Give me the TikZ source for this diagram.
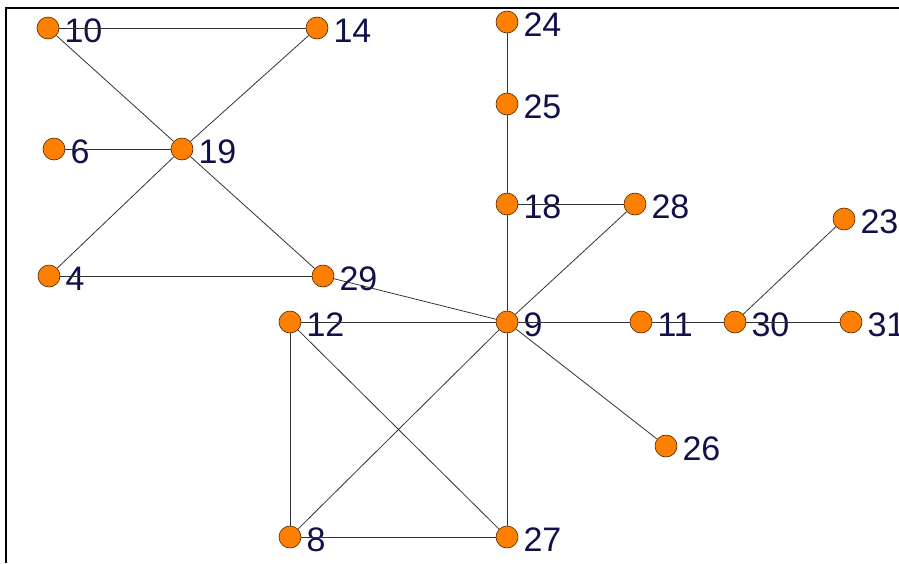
\documentclass[tikz,border=0pt]{standalone}
\usepackage{fontspec}
\setmainfont{Liberation Sans}
\usetikzlibrary{positioning}
\definecolor{vertexorange}{HTML}{FF8000}
\definecolor{labelnavy}{HTML}{10104A}
\begin{document}
\begin{tikzpicture}[x=1pt, y=-1pt,
        vertex/.style={circle, draw=black!70!orange, fill=vertexorange, line width=0.6pt, minimum size=22pt, inner sep=0pt},
        vlabel/.style={label distance=5pt, text=labelnavy, font=\fontsize{34}{34}\selectfont, inner sep=0pt, yshift=-3pt},
        link/.style={line width=0.8pt, black!80},
    ]

    % Frame
    \useasboundingbox (0,0) rectangle (899,563);
    \draw[line width=2pt] (6,563) -- (6,8) -- (899,8);

    % Objects
    \node[vertex, label={[vlabel]right:10}] (vTen) at (48,28) {};
    \node[vertex, label={[vlabel]right:14}] (vFourteen) at (317,28) {};
    \node[vertex, label={[vlabel]right:6}] (vSix) at (54,149) {};
    \node[vertex, label={[vlabel]right:19}] (vNineteen) at (182,149) {};
    \node[vertex, label={[vlabel]right:4}] (vFour) at (49,276) {};
    \node[vertex, label={[vlabel]right:29}] (vTwentyNine) at (323,276) {};
    \node[vertex, label={[vlabel]right:12}] (vTwelve) at (290,322) {};
    \node[vertex, label={[vlabel]right:9}] (vNine) at (507,322) {};
    \node[vertex, label={[vlabel]right:24}] (vTwentyFour) at (507,22) {};
    \node[vertex, label={[vlabel]right:25}] (vTwentyFive) at (507,104) {};
    \node[vertex, label={[vlabel]right:18}] (vEighteen) at (507,204) {};
    \node[vertex, label={[vlabel]right:28}] (vTwentyEight) at (635,204) {};
    \node[vertex, label={[vlabel]right:23}] (vTwentyThree) at (844,219) {};
    \node[vertex, label={[vlabel]right:11}] (vEleven) at (641,322) {};
    \node[vertex, label={[vlabel]right:30}] (vThirty) at (735,322) {};
    \node[vertex, label={[vlabel]right:31}] (vThirtyOne) at (851,322) {};
    \node[vertex, label={[vlabel]right:26}] (vTwentySix) at (666,446) {};
    \node[vertex, label={[vlabel]right:8}] (vEight) at (290,537) {};
    \node[vertex, label={[vlabel]right:27}] (vTwentySeven) at (507,537) {};

    % Lines
    \draw[link] (vTen) -- (vFourteen);
    \draw[link] (vTen) -- (vNineteen);
    \draw[link] (vFourteen) -- (vNineteen);
    \draw[link] (vSix) -- (vNineteen);
    \draw[link] (vNineteen) -- (vFour);
    \draw[link] (vNineteen) -- (vTwentyNine);
    \draw[link] (vFour) -- (vTwentyNine);
    \draw[link] (vTwentyNine) -- (vNine);
    \draw[link] (vTwelve) -- (vNine);
    \draw[link] (vTwentyFour) -- (vTwentyFive);
    \draw[link] (vTwentyFive) -- (vEighteen);
    \draw[link] (vEighteen) -- (vNine);
    \draw[link] (vEighteen) -- (vTwentyEight);
    \draw[link] (vTwentyEight) -- (vNine);
    \draw[link] (vNine) -- (vEleven);
    \draw[link] (vEleven) -- (vThirty);
    \draw[link] (vThirty) -- (vThirtyOne);
    \draw[link] (vThirty) -- (vTwentyThree);
    \draw[link] (vNine) -- (vTwentySix);
    \draw[link] (vNine) -- (vTwentySeven);
    \draw[link] (vNine) -- (vEight);
    \draw[link] (vTwelve) -- (vEight);
    \draw[link] (vTwelve) -- (vTwentySeven);
    \draw[link] (vEight) -- (vTwentySeven);

\end{tikzpicture}
\end{document}
